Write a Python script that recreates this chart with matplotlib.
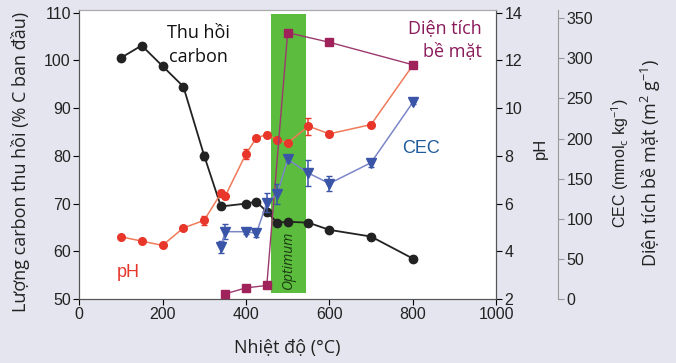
import matplotlib.pyplot as plt
from matplotlib.patches import Rectangle

plt.rcParams['mathtext.fontset'] = 'custom'
plt.rcParams['mathtext.rm'] = 'Open Sans'
plt.rcParams['mathtext.it'] = 'Open Sans:italic'

# data
temp_carbon = [100, 150, 200, 250, 300, 340, 400, 425, 450, 475, 500, 550, 600, 700, 800]
carbon = [100.5, 103.1, 98.8, 94.5, 80.0, 69.4, 70.0, 70.4, 68.3, 66.0, 66.2, 66.0, 64.5, 63.1, 58.5]
carbon_err = [0.4, 0.4, 0.4, 0.6, 0.8, 0.5, 0.4, 0.4, 0.6, 0.4, 0.4, 0.6, 0.4, 0.6, 0.6]

temp_ph = [100, 150, 200, 250, 300, 340, 350, 400, 425, 450, 475, 500, 550, 600, 700, 800]
ph = [4.61, 4.43, 4.25, 4.98, 5.30, 6.43, 6.30, 8.08, 8.75, 8.89, 8.68, 8.54, 9.24, 8.92, 9.31, 11.79]
ph_err = [0.05, 0.05, 0.05, 0.1, 0.2, 0.15, 0.1, 0.2, 0.1, 0.1, 0.1, 0.05, 0.35, 0.1, 0.1, 0.1]

temp_cec = [340, 350, 400, 425, 450, 475, 500, 550, 600, 700, 800]
cec = [65, 84, 84, 82, 120, 131, 174, 157, 144, 170, 245]
cec_err = [8, 9, 3, 5, 12, 12, 3, 16, 9, 5, 2]

temp_sa = [350, 400, 450, 500, 600, 800]
surface = [6.5, 14, 17, 332, 320, 292]

optimum = (460, 545)

bg = '#e5e5f0'
fig = plt.figure(figsize=(6.76, 3.63), dpi=100, facecolor=bg)
ax = fig.add_axes([0.117, 0.176, 0.617, 0.796])
ax.set_facecolor('white')

ax.add_patch(Rectangle((optimum[0], 51.3), optimum[1] - optimum[0], 58.5,
                       color='#5cbc3e', zorder=1, lw=0))
ax.text(sum(optimum) / 2, 58.3, 'Optimum', rotation=90, ha='center', va='center',
        fontsize=10, style='italic', color='#1a3a12', family='Open Sans', zorder=2)

ax.errorbar(temp_carbon, carbon, yerr=carbon_err, color='#222222', marker='o',
            ms=6, lw=1.3, capsize=2, zorder=6)

ax_ph = ax.twinx()
ax_ph.errorbar(temp_ph, ph, yerr=ph_err, color='#f07a5a', marker='o', ms=5.5,
               mfc='#e8362a', mec='#e8362a', ecolor='#e8362a', lw=1.1, capsize=2, zorder=5)
ax_ph.set_ylim(2, 14.1)
ax_ph.set_yticks([2, 4, 6, 8, 10, 12, 14])

ax3 = ax.twinx()
ax3.spines['right'].set_position(('axes', 1.149))
ax3.errorbar(temp_cec, cec, yerr=cec_err, color='#7b86c8', marker='v', ms=6.5,
             mfc='#3a55a8', mec='#3a55a8', ecolor='#3a55a8', lw=1.1, capsize=2.5, zorder=5)
ax3.plot(temp_sa, surface, color='#9c3a6e', marker='s', ms=6, mfc='#a0225a',
         mec='#a0225a', lw=1.0, zorder=4)
ax3.set_ylim(0, 360)
ax3.set_yticks(range(0, 351, 50))

ax.set_xlim(0, 1000)
ax.set_ylim(50, 110.5)
ax.set_xticks(range(0, 1001, 200))
ax.set_yticks(range(50, 111, 10))

for a in (ax, ax_ph):
    for s in a.spines.values():
        s.set_color('#555555')
    a.spines['top'].set_color('#aaaaaa')
for s in ['left', 'top', 'bottom']:
    ax3.spines[s].set_visible(False)
ax3.spines['right'].set_color('#999999')
ax3.tick_params(axis='y', colors='#999999', labelcolor='#222222')

for a in (ax, ax_ph, ax3):
    a.tick_params(length=4, width=0.8, direction='out', labelsize=11.5, pad=2)
    for lab in a.get_xticklabels() + a.get_yticklabels():
        lab.set_fontfamily('Liberation Sans')
        lab.set_color('#222222')

# axis titles placed as plain texts (centre anchored)
ax.text(0.5, -0.17, 'Nhiệt độ (°C)', transform=ax.transAxes, ha='center', va='center',
        family='Open Sans', fontsize=13, color='#222222')
ax.text(-0.141, 0.474, 'Lượng carbon thu hồi (% C ban đầu)', transform=ax.transAxes,
        rotation=90, ha='center', va='center', family='Open Sans', fontsize=13,
        color='#222222')
ax.text(1.105, 0.52, 'pH', transform=ax.transAxes, rotation=90, ha='center',
        va='center', family='Liberation Sans', fontsize=12, color='#222222')
ax.text(1.297, 0.47, r'CEC (mmol$_\mathrm{c}$ kg$^{-1}$)', transform=ax.transAxes,
        rotation=90, ha='center', va='center', family='Liberation Sans', fontsize=11.5,
        color='#222222')
ax.text(1.37, 0.47, 'Diện tích bề mặt (m$^2$ g$^{-1}$)', transform=ax.transAxes,
        rotation=90, ha='center', va='center', family='Open Sans', fontsize=13,
        color='#222222')

ax.text(285, 103.2, 'Thu hồi\ncarbon', ha='center', va='center', family='Open Sans',
        fontsize=13, color='#111111', linespacing=1.45, zorder=7)
ax.text(965, 104.2, 'Diện tích\nbề mặt', ha='right', va='center', family='Open Sans',
        fontsize=13, color='#8a1a5a', linespacing=1.45, zorder=7)
ax.text(118, 55.5, 'pH', ha='center', va='center', family='Liberation Sans',
        fontsize=13, color='#e8362a', zorder=7)
ax.text(820, 81.5, 'CEC', ha='center', va='center', family='Liberation Sans',
        fontsize=13, color='#1f5b9a', zorder=7)

ax.set_zorder(3)
ax_ph.set_zorder(4)
ax3.set_zorder(5)
ax_ph.patch.set_visible(False)
ax3.patch.set_visible(False)

fig.savefig('out.png', dpi=100, facecolor=bg)
